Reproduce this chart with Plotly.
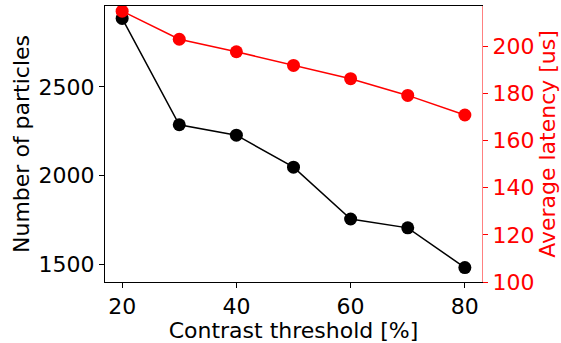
import plotly.graph_objects as go

# Contrast threshold sweep
thresholds = [20, 30, 40, 50, 60, 70, 80]
particles = [2886, 2287, 2228, 2048, 1756, 1706, 1482]
latency_us = [214.8, 202.9, 197.6, 191.8, 186.2, 179.1, 170.8]

FONT = "DejaVu Sans"
FS = 22

fig = go.Figure()

fig.add_trace(go.Scatter(
    x=thresholds, y=particles, mode="lines+markers",
    line=dict(color="black", width=1.5),
    marker=dict(color="black", size=13),
    yaxis="y", showlegend=False,
))

fig.add_trace(go.Scatter(
    x=thresholds, y=latency_us, mode="lines+markers",
    line=dict(color="red", width=1.5),
    marker=dict(color="red", size=13),
    yaxis="y2", showlegend=False,
))

fig.update_layout(
    width=561, height=343,
    margin=dict(l=105, r=75, t=5, b=58),
    paper_bgcolor="white", plot_bgcolor="white",
    font=dict(family=FONT, size=FS, color="black"),
    xaxis=dict(
        range=[17, 83], tickvals=[20, 40, 60, 80],
        showgrid=False, zeroline=False,
        showline=True, linecolor="black", linewidth=1, mirror=True,
        ticks="outside", ticklen=5, tickwidth=1, tickcolor="black",
        title=dict(text="Contrast threshold [%]", standoff=3,
                   font=dict(family=FONT, size=FS)),
        tickfont=dict(family=FONT, size=FS),
    ),
    yaxis=dict(
        range=[1401, 2956], tickvals=[1500, 2000, 2500],
        showgrid=False, zeroline=False,
        showline=True, linecolor="black", linewidth=1,
        ticks="outside", ticklen=5, tickwidth=1, tickcolor="black",
        title=dict(text="Number of particles", standoff=2,
                   font=dict(family=FONT, size=FS)),
        tickfont=dict(family=FONT, size=FS),
    ),
    yaxis2=dict(
        overlaying="y", side="right", anchor="x",
        range=[100, 217], tickvals=[100, 120, 140, 160, 180, 200],
        showgrid=False, zeroline=False,
        showline=True, linecolor="#ff8080", linewidth=1,
        ticks="outside", ticklen=5, tickwidth=1, tickcolor="red",
        title=dict(text="Average latency [us]", standoff=6,
                   font=dict(family=FONT, size=FS, color="red")),
        tickfont=dict(family=FONT, size=FS, color="red"),
    ),
)

fig.write_html("out.html")
